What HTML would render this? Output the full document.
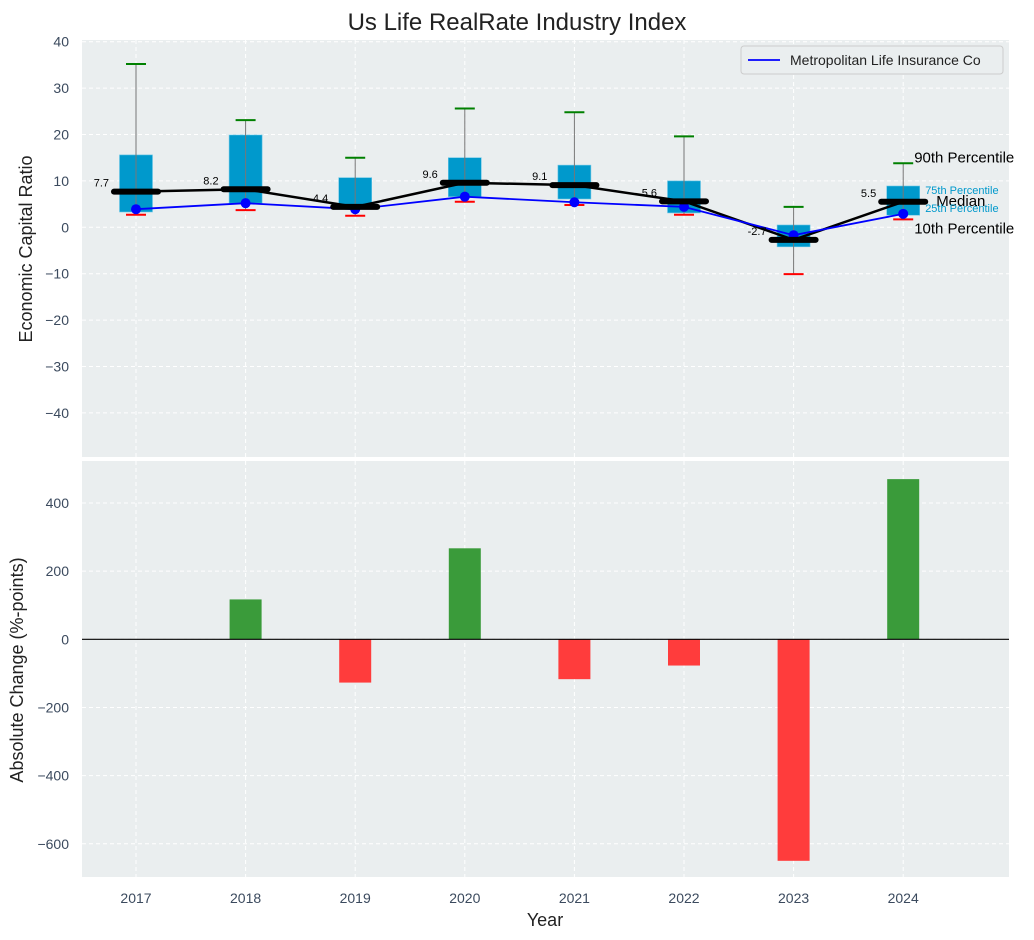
<!DOCTYPE html>
<html><head><meta charset="utf-8"><style>
body{margin:0;background:#fff;}
svg{display:block;font-family:"Liberation Sans",sans-serif;}
</style></head><body>
<svg id="c" width="1034" height="940"></svg>
<script>
const years=[2017,2018,2019,2020,2021,2022,2023,2024];
const p90=[35.2,23.1,15.0,25.6,24.8,19.6,4.4,13.8];
const p75=[15.6,19.9,10.7,15.0,13.4,10.0,0.5,8.9];
const median=[7.7,8.2,4.4,9.6,9.1,5.6,-2.7,5.5];
const p25=[3.3,5.2,3.9,6.6,6.1,3.1,-4.2,2.6];
const p10=[2.7,3.7,2.5,5.5,4.8,2.7,-10.1,1.7];
const company=[3.9,5.2,3.9,6.6,5.4,4.4,-1.7,2.9];
const change=[0,117,-127,267,-117,-77,-650,470];
const topTicks=[40,30,20,10,0,-10,-20,-30,-40];
const botTicks=[400,200,0,-200,-400,-600];

const NS="http://www.w3.org/2000/svg";
const svg=document.getElementById('c');
function el(t,a,p){const e=document.createElementNS(NS,t);for(const k in a)e.setAttribute(k,a[k]);(p||svg).appendChild(e);return e;}
const X0=82,X1=1009;
const x=v=>136+(v-2017)*109.6;
const yT=v=>227.3-v*4.64;
const yB=v=>639.3-v*0.3408;
const TOP0=40,TOP1=457,BOT0=461,BOT1=877;

let r=el('rect',{x:X0,y:TOP0,width:X1-X0,height:TOP1-TOP0,fill:'#eaeeef'});

r=el('rect',{x:X0,y:BOT0,width:X1-X0,height:BOT1-BOT0,fill:'#eaeeef'});


years.forEach(yr=>{
  el('line',{x1:x(yr),x2:x(yr),y1:TOP0,y2:TOP1,stroke:'#fff','stroke-dasharray':'4,3','stroke-width':1});
  el('line',{x1:x(yr),x2:x(yr),y1:BOT0,y2:BOT1,stroke:'#fff','stroke-dasharray':'4,3','stroke-width':1});
});
topTicks.forEach(t=>{
  el('line',{x1:X0,x2:X1,y1:yT(t),y2:yT(t),stroke:'#fff','stroke-dasharray':'4,3'});
  const tx=el('text',{x:69,y:yT(t)+5,'text-anchor':'end','font-size':14,fill:'#3b4a5e'});tx.textContent=String(t).replace('-','−');
  
});
botTicks.forEach(t=>{
  el('line',{x1:X0,x2:X1,y1:yB(t),y2:yB(t),stroke:'#fff','stroke-dasharray':'4,3'});
  const tx=el('text',{x:69,y:yB(t)+5,'text-anchor':'end','font-size':14,fill:'#3b4a5e'});tx.textContent=String(t).replace('-','−');
  
});
years.forEach(yr=>{
  const tx=el('text',{x:x(yr),y:903,'text-anchor':'middle','font-size':14,fill:'#3b4a5e'});tx.textContent=yr;
  
});

years.forEach((yr,i)=>{
  const cx=x(yr);
  const g=el('g',{});
  
  el('rect',{x:cx-16.5,y:yT(p75[i]),width:33,height:yT(p25[i])-yT(p75[i]),fill:'#0099cc',stroke:'#6cc7e6','stroke-width':0.6},g);
  el('line',{x1:cx,x2:cx,y1:yT(p90[i]),y2:yT(p10[i]),stroke:'#777','stroke-width':1},g);
  el('line',{x1:cx-10,x2:cx+10,y1:yT(p90[i]),y2:yT(p90[i]),stroke:'#008000','stroke-width':2},g);
  el('line',{x1:cx-10,x2:cx+10,y1:yT(p10[i]),y2:yT(p10[i]),stroke:'#ff0000','stroke-width':2},g);
});
let pts=years.map((yr,i)=>x(yr)+','+yT(median[i])).join(' ');
let pl=el('polyline',{points:pts,fill:'none',stroke:'#000','stroke-width':2.5});

pts=years.map((yr,i)=>x(yr)+','+yT(company[i])).join(' ');
pl=el('polyline',{points:pts,fill:'none',stroke:'#0000ff','stroke-width':1.8});

years.forEach((yr,i)=>{
  const c=el('circle',{cx:x(yr),cy:yT(company[i]),r:5,fill:'#0000ff'});
  
  const m=el('line',{x1:x(yr)-22,x2:x(yr)+22,y1:yT(median[i]),y2:yT(median[i]),stroke:'#000','stroke-width':6,'stroke-linecap':'round'});
  
  const t=el('text',{x:x(yr)-27,y:yT(median[i])-5,'text-anchor':'end','font-size':11,fill:'#000'});t.textContent=median[i].toFixed(1);
  
});
const last=years.length-1,lx=x(years[last]);
[[p90[last],'90th Percentile',15,'#000',-5,11],[p75[last],'75th Percentile',11,'#0099cc',4,22],[median[last],'Median',15,'#000',0,33],[p25[last],'25th Percentile',11,'#0099cc',-7,22],[p10[last],'10th Percentile',15,'#000',10,11]].forEach(a=>{
  const t=el('text',{x:lx+a[5],y:yT(a[0])+a[4]+4,'font-size':a[2],fill:a[3]});t.textContent=a[1];
  
});

years.forEach((yr,i)=>{
  const v=change[i];
  const b=el('rect',{x:x(yr)-16,y:Math.min(yB(v),yB(0)),width:32,height:Math.abs(yB(v)-yB(0)),fill:v>=0?'#3a9b3a':'#ff3c3c'});
  
});
el('line',{x1:X0,x2:X1,y1:yB(0),y2:yB(0),stroke:'#000','stroke-width':1.2});

const lg=el('g',{});
el('rect',{x:741,y:46,width:262,height:28,rx:3,fill:'#eaeeef',stroke:'#ccc'},lg);
el('line',{x1:748,x2:780,y1:60,y2:60,stroke:'#0000ff','stroke-width':1.8},lg);
let t=el('text',{x:790,y:65,'font-size':14,fill:'#222'},lg);t.textContent='Metropolitan Life Insurance Co';

t=el('text',{x:517,y:30,'text-anchor':'middle','font-size':24,fill:'#222'});t.textContent='Us Life RealRate Industry Index';

t=el('text',{x:0,y:0,'text-anchor':'middle','font-size':18,fill:'#222',transform:'translate(32,249) rotate(-90)'});t.textContent='Economic Capital Ratio';

t=el('text',{x:0,y:0,'text-anchor':'middle','font-size':18,fill:'#222',transform:'translate(23,670) rotate(-90)'});t.textContent='Absolute Change (%-points)';

t=el('text',{x:545,y:926,'text-anchor':'middle','font-size':18,fill:'#222'});t.textContent='Year';

</script>
</body></html>
